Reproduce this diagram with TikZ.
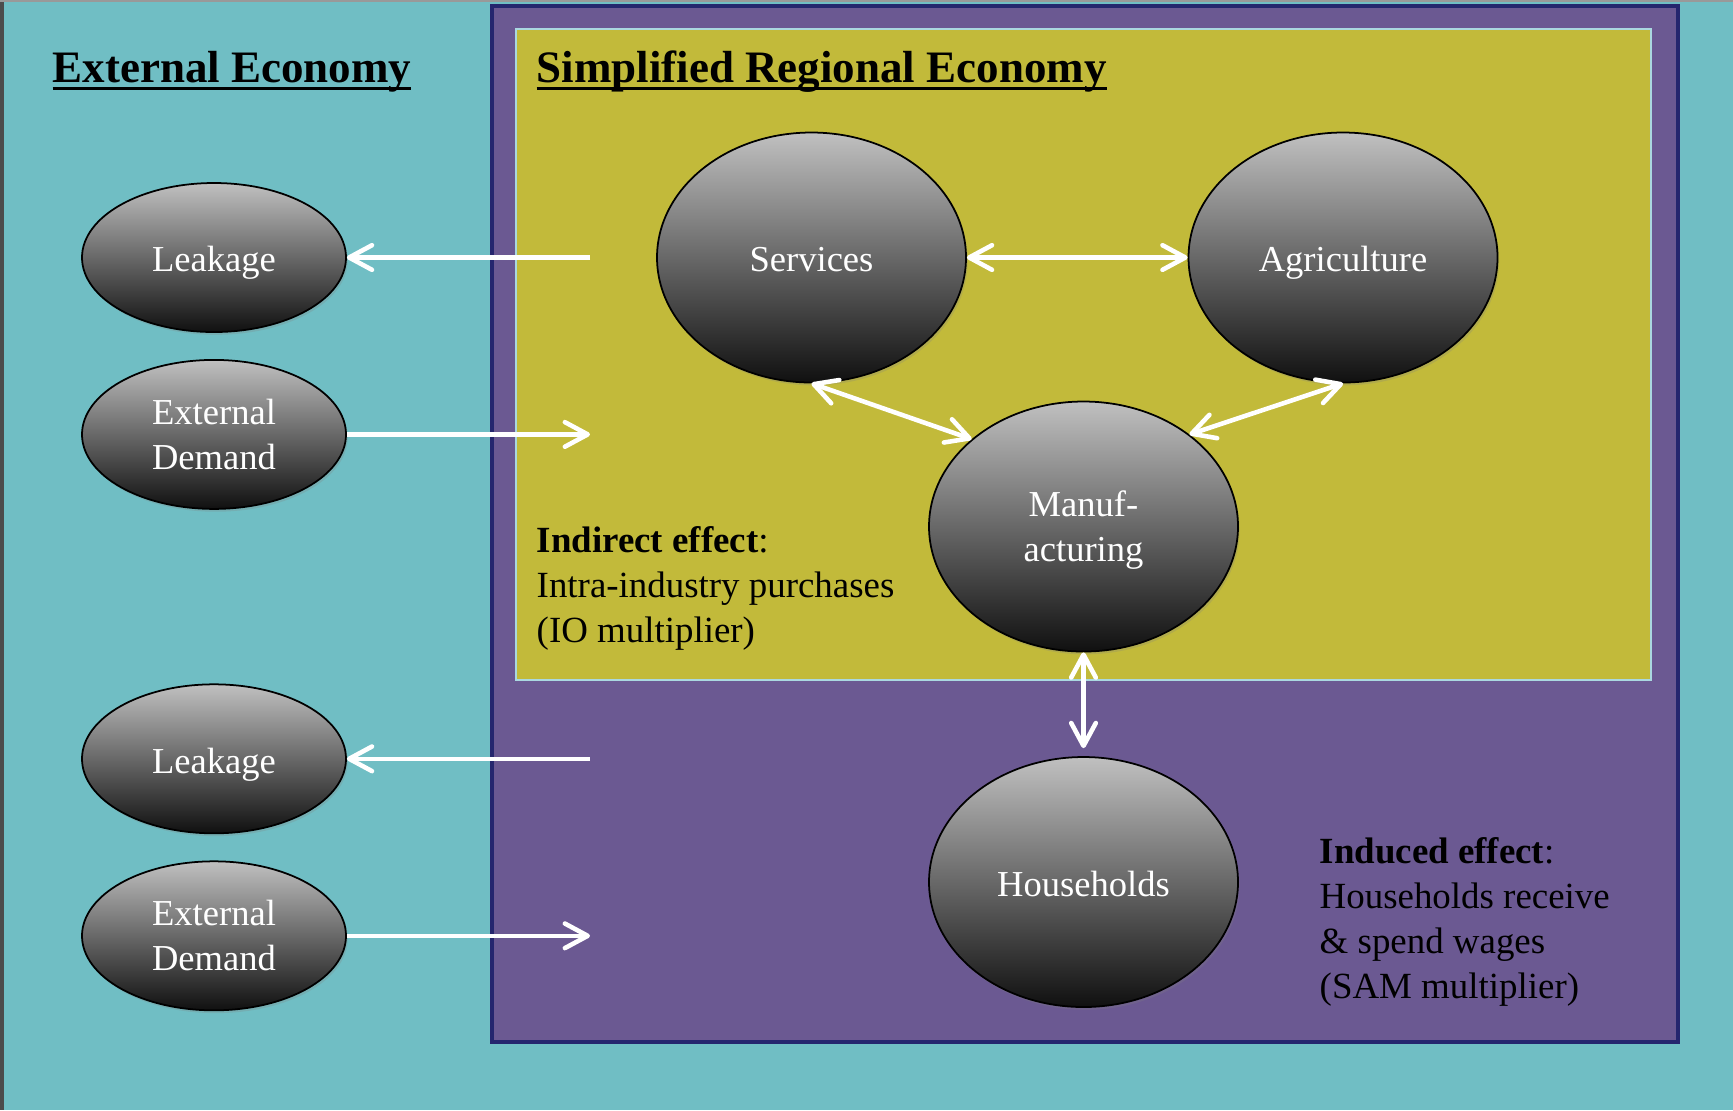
\documentclass[tikz,border=0pt]{standalone}
\usepackage{fontspec}
\setmainfont{Liberation Serif}
\usetikzlibrary{arrows.meta,shapes.geometric,shadows}
\definecolor{extteal}{HTML}{70BEC4}
\definecolor{regpurple}{HTML}{6B5992}
\definecolor{regnavy}{HTML}{25266E}
\definecolor{indolive}{HTML}{C2BA3A}
\definecolor{indline}{HTML}{AAD8E0}
\definecolor{balltop}{HTML}{C0C0C0}
\definecolor{ballbot}{HTML}{101010}
\newcommand{\titleline}[1]{\setbox0\hbox{#1}\rlap{\rule[-2.2pt]{\wd0}{0.9pt}}\box0}

\begin{document}
\begin{tikzpicture}[
  sector/.style={ellipse,draw=black,line width=0.5pt,top color=balltop,bottom color=ballbot,
    text=white,font=\fontsize{10.4}{12.9}\selectfont,align=center,inner sep=0pt,
    text height=8.2pt,text depth=0pt,
    drop shadow={opacity=0.25,shadow xshift=0.5pt,shadow yshift=-0.8pt}},
  twoline/.style={text height=20pt},
  outside/.style={sector,minimum width=2.64cm,minimum height=1.49cm},
  inside/.style={sector,minimum width=3.09cm,minimum height=2.50cm},
  flow/.style={draw=white,line width=1.3pt,-{Straight Barb[length=6.5pt,width=7pt,round]}},
  twoway/.style={flow,{Straight Barb[length=6.5pt,width=7pt,round]}-{Straight Barb[length=6.5pt,width=7pt,round]}},
  heading/.style={anchor=base west,inner sep=0pt,font=\fontsize{12.8}{15}\selectfont\bfseries},
  remark/.style={anchor=base west,inner sep=0pt,align=left,font=\fontsize{10.5}{12.8}\selectfont}
]
\useasboundingbox (0,0) rectangle (17.33,-11.10);
% External economy background
\fill[extteal] (0,0) rectangle (17.33,-11.10);
\fill[black!70] (0,0) rectangle (0.04,-11.10);
\fill[black!40] (0,0) rectangle (17.33,-0.015);
% Regional economy box
\draw[regnavy,fill=regpurple,line width=1.15pt] (4.92,-0.06) rectangle (16.78,-10.42);
% Industry box
\draw[indline,fill=indolive,line width=0.4pt] (5.16,-0.29) rectangle (16.51,-6.80);

% Titles
\node[heading] (ext title) at (0.52,-0.82) {\titleline{External Economy}};
\node[heading] (reg title) at (5.36,-0.82) {\titleline{Simplified Regional Economy}};

% Outside nodes
\node[outside] (node leak a) at (2.14,-2.575) {Leakage};
\node[outside,twoline] (node dem a) at (2.14,-4.344) {External\\Demand};
\node[outside] (node leak b) at (2.14,-7.588) {Leakage};
\node[outside,twoline] (node dem b) at (2.14,-9.358) {External\\Demand};
% Sector nodes
\node[inside] (node serv) at (8.115,-2.575) {Services};
\node[inside] (node agri) at (13.43,-2.575) {Agriculture};
\node[inside,twoline] (node manu) at (10.835,-5.265) {Manuf-\\acturing};
\node[inside] (node house) at (10.835,-8.82) {Households};

% Free ends of the outside arrows
\coordinate (leak a end) at (5.90,-2.575);
\coordinate (dem a end) at (5.90,-4.344);
\coordinate (leak b end) at (5.90,-7.588);
\coordinate (dem b end) at (5.90,-9.358);

\draw[flow] (leak a end) -- (node leak a);
\draw[flow] (node dem a) -- (dem a end);
\draw[flow] (leak b end) -- (node leak b);
\draw[flow] (node dem b) -- (dem b end);
% Arrows between sectors
\draw[twoway] (node serv) -- (node agri);
\draw[twoway] (node serv.south) -- (node manu.142);
\draw[twoway] (node agri.south) -- (node manu.41);
\draw[twoway,shorten >=0.08cm] (node manu.south) -- (node house.north);

% Effect notes
\node[remark] (indirect note) at (5.36,-6.42) {\textbf{Indirect effect}:\\Intra-industry purchases\\(IO multiplier)};
\node[remark] (induced note) at (13.19,-9.983) {\textbf{Induced effect}:\\Households receive\\\& spend wages\\(SAM multiplier)};
\end{tikzpicture}
\end{document}
